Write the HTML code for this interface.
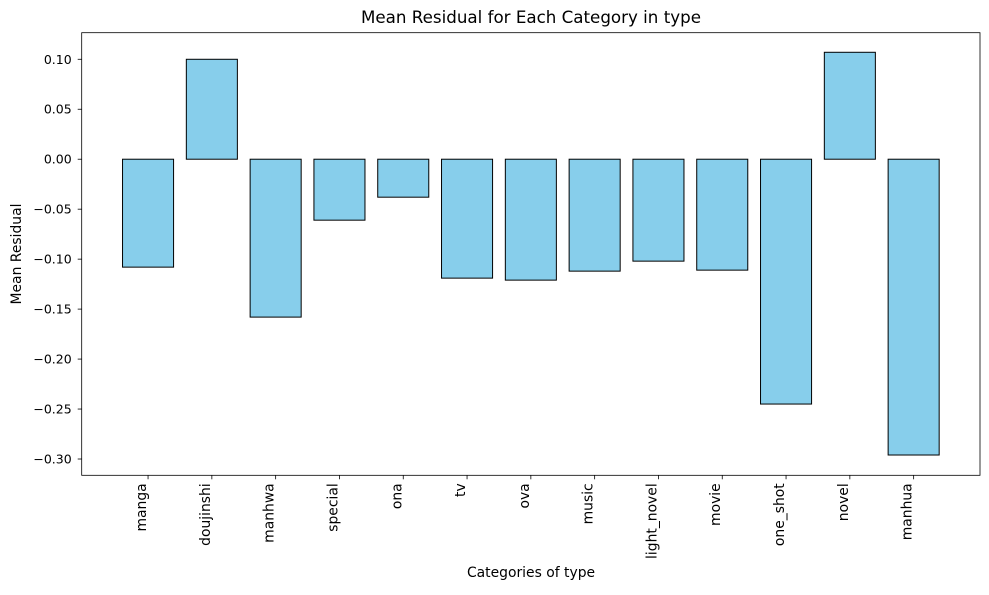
<!DOCTYPE html>
<html><head><meta charset="utf-8"><style>
body{margin:0;background:#fff;font-family:"Liberation Sans","DejaVu Sans",sans-serif;}
</style></head><body>
<svg width="989" height="590" xmlns="http://www.w3.org/2000/svg" font-family="'DejaVu Sans','Liberation Sans',sans-serif">
<rect width="989" height="590" fill="#fff"/>
<text x="531" y="23" font-size="16.7" text-anchor="middle">Mean Residual for Each Category in type</text>
<text x="531" y="577" font-size="13.9" text-anchor="middle">Categories of type</text>
<text transform="translate(21,254) rotate(-90)" font-size="13.9" text-anchor="middle">Mean Residual</text>
<g id="plot"></g>
</svg>
<script>
const categories=["manga","doujinshi","manhwa","special","ona","tv","ova","music","light_novel","movie","one_shot","novel","manhua"];
const values=[-0.108,0.100,-0.158,-0.061,-0.038,-0.119,-0.121,-0.112,-0.102,-0.111,-0.245,0.107,-0.296];
const yTicks=[0.10,0.05,0.00,-0.05,-0.10,-0.15,-0.20,-0.25,-0.30];
const L=81.7,R=980,T=32.7,B=475.3;
const xMin=-1.04,xMax=categories.length-1+1.04;
const yMin=-0.3163,yMax=0.1266;
const xs=i=>L+(i-xMin)/(xMax-xMin)*(R-L);
const ys=v=>B-(v-yMin)/(yMax-yMin)*(B-T);
const NS="http://www.w3.org/2000/svg";
const g=document.getElementById('plot');
function mk(t,a){const e=document.createElementNS(NS,t);for(const k in a)e.setAttribute(k,a[k]);g.appendChild(e);return e;}
const bw=0.8*(xs(1)-xs(0));
values.forEach((v,i)=>{
 const y0=ys(0),y1=ys(v);
 const r=mk('rect',{x:xs(i)-bw/2,y:Math.min(y0,y1),width:bw,height:Math.abs(y1-y0),fill:'#87ceeb',stroke:'#000','stroke-width':1});
 
 
 const tk=mk('line',{x1:xs(i),x2:xs(i),y1:B,y2:B+4,stroke:'#000','stroke-width':0.8});
 
 
 const t=mk('text',{transform:`translate(${xs(i)-2},${B+8}) rotate(-90)`,'font-size':13.9,'text-anchor':'end'});
 t.textContent=categories[i];
 
 
});
yTicks.forEach(v=>{
 const tk=mk('line',{x1:L-4,x2:L,y1:ys(v),y2:ys(v),stroke:'#000','stroke-width':0.8});
 
 
 const t=mk('text',{x:L-10,y:ys(v)+4.5,'font-size':12.5,'text-anchor':'end'});
 t.textContent=v.toFixed(2).replace('-','\u2212');
 
 
});
const f=mk('rect',{x:L,y:T,width:R-L,height:B-T,fill:'none',stroke:'#000','stroke-width':0.8});


</script>
</body></html>
